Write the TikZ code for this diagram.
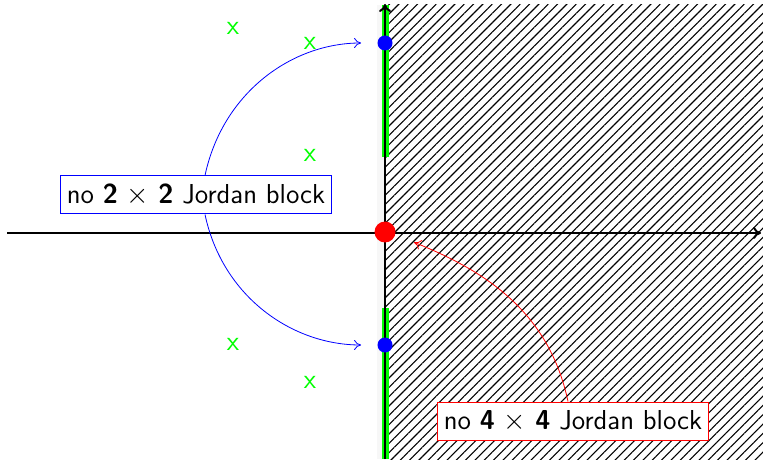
\documentclass[tikz,border=0pt]{standalone}
\usetikzlibrary{patterns.meta,arrows.meta}
\begin{document}
\begin{tikzpicture}[x=0.5pt,y=-0.5pt,
  every node/.style={font=\fontsize{13.7}{16}\selectfont\sffamily},
  axis/.style={line width=1pt,-{To[length=4pt,width=6pt]}},
  lbl/.style={draw,fill=white,line width=0.5pt,inner sep=3pt,minimum height=19pt,minimum width=135.5pt},
  conn/.style={line width=0.4pt,-{To[length=3.5pt,width=5pt]}},
  cross/.style={text=green,inner sep=0pt},
  dot/.style={circle,inner sep=0pt,minimum size=#1},
  greenbar/.style={draw=green,line width=3.5pt}]
\useasboundingbox (0,0) rectangle (763,459);
% hatched half-plane
\fill[pattern={Lines[angle=45,distance=3.3pt,line width=0.55pt]}] (385,5) rectangle (763,459);
\fill[black!3] (377,5) rectangle (385,459);
% green segments on imaginary axis
\draw[greenbar] (385,5) -- (385,157);
\draw[greenbar] (385,308) -- (385,459);
% axes
\draw[axis] (7,233) -- (761,233);
\draw[axis] (385,459) -- (385,4);
% eigenvalue markers
\node[cross] (c1) at (233,28) {x};
\node[cross] (c2) at (310,43) {x};
\node[cross] (c3) at (310,155) {x};
\node[cross] (c4) at (233,344) {x};
\node[cross] (c5) at (310,382) {x};
\node[dot=7.5pt,fill=blue] (b1) at (385,43) {};
\node[dot=7.5pt,fill=blue] (b2) at (385,345) {};
\node[dot=10.5pt,fill=red] (rd) at (385,232) {};
% labels
\node[lbl,draw=blue] (L2) at (196,195) {no \textbf{2} $\times$ \textbf{2} Jordan block};
\node[lbl,draw=red] (L4) at (573,421) {no \textbf{4} $\times$ \textbf{4} Jordan block};
% connectors
\draw[conn,blue,shorten >=8pt] ([xshift=4.5pt]L2.north) to[out=78,in=180] (b1.west);
\draw[conn,blue,shorten >=8pt] ([xshift=4.5pt]L2.south) to[out=-78,in=180] (b2.west);
\draw[conn,red,shorten >=10pt] ([xshift=-2.5pt]L4.north) to[out=102,in=-22] (rd.-15);
\end{tikzpicture}
\end{document}
